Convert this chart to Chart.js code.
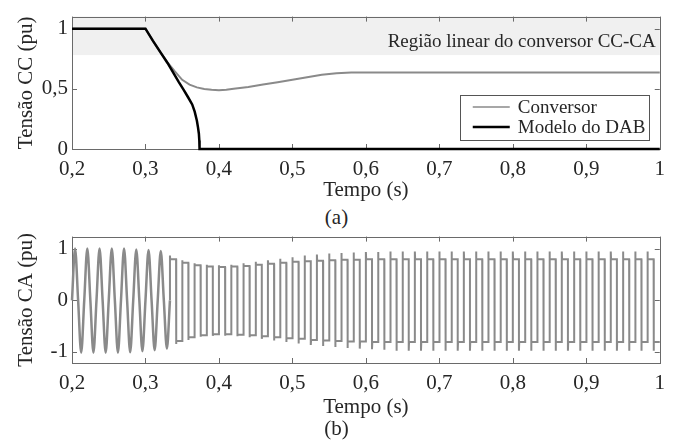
<!DOCTYPE html>
<html lang="pt">
<head>
<meta charset="UTF-8">
<title>Tensão CC e CA</title>
<script src="https://cdn.jsdelivr.net/npm/chart.js"></script>
<style>
body { margin: 0; background: #fff; }
#wrap { position: relative; width: 673px; height: 440px; font-family: "Liberation Serif", "Times New Roman", serif; color: #262626; }
canvas { position: absolute; left: 0; }
.cap { position: absolute; left: 0; width: 673px; text-align: center; font-size: 21px; line-height: 21px; }
</style>
</head>
<body>
<div id="wrap">
  <canvas id="ccChart" width="673" height="203" style="top:0"></canvas>
  <div class="cap" style="top:207px">(a)</div>
  <canvas id="caChart" width="673" height="200" style="top:220px"></canvas>
  <div class="cap" style="top:418px">(b)</div>
</div>
<script>
// axis ticks
const timeTicks = [0.2, 0.3, 0.4, 0.5, 0.6, 0.7, 0.8, 0.9, 1];
const ccTicks = [0, 0.5, 1];
const caTicks = [-1, 0, 1];

// (a) DC voltage
const dabTime = [0.2, 0.3, 0.31, 0.3205, 0.33, 0.3386, 0.345, 0.352, 0.358, 0.3636, 0.367, 0.37, 0.3715, 0.3727, 0.3733, 0.3736, 1.0];
const dabVolt = [1.0, 1.0, 0.9, 0.803, 0.715, 0.627, 0.56, 0.492, 0.43, 0.37, 0.31, 0.235, 0.18, 0.127, 0.07, 0.0, 0.0];
const convTime = [0.2, 0.3, 0.31, 0.32, 0.33, 0.34, 0.35, 0.36, 0.37, 0.38, 0.39, 0.4, 0.41, 0.42, 0.44, 0.46, 0.48, 0.5, 0.52, 0.54, 0.56, 0.58, 0.6, 0.7, 0.8, 0.9, 1.0];
const convVolt = [1.0, 1.0, 0.9, 0.805, 0.72, 0.645, 0.575, 0.535, 0.512, 0.498, 0.492, 0.489, 0.492, 0.5, 0.515, 0.535, 0.555, 0.575, 0.597, 0.617, 0.63, 0.635, 0.636, 0.636, 0.636, 0.636, 0.636];
const linearRegionFrom = 0.78;

// (b) AC voltage, 60 Hz, values read per cycle
const acFreq = 60;
const acStart = 0.2;
const sinePosPeak = [1.01, 1.01, 1.01, 1.01, 1.01, 0.99, 0.98, 0.96];
const sineNegPeak = [-1.02, -1.02, -1.02, -1.02, -1.01, -0.99, -0.97, -0.94];
const sqPosSpike = [0.87, 0.78, 0.72, 0.69, 0.68, 0.69, 0.72, 0.75, 0.78, 0.81, 0.84, 0.87, 0.89, 0.91, 0.92, 0.93, 0.94, 0.94,
  0.95, 0.95, 0.95, 0.95, 0.95, 0.95, 0.95, 0.95, 0.95, 0.95, 0.95, 0.95, 0.95, 0.95, 0.95, 0.95, 0.95, 0.95, 0.95, 0.95, 0.95, 0.95];
const sqPosFlat = [0.80, 0.73, 0.68, 0.66, 0.65, 0.66, 0.67, 0.69, 0.71, 0.73, 0.75, 0.76, 0.77, 0.78, 0.79, 0.79, 0.80, 0.80,
  0.80, 0.80, 0.80, 0.80, 0.80, 0.80, 0.80, 0.80, 0.80, 0.80, 0.80, 0.80, 0.80, 0.80, 0.80, 0.80, 0.80, 0.80, 0.80, 0.80, 0.80, 0.80];
const sqNegSpike = [-0.85, -0.77, -0.71, -0.69, -0.69, -0.70, -0.72, -0.75, -0.78, -0.81, -0.84, -0.87, -0.89, -0.91, -0.93, -0.94, -0.95, -0.96,
  -0.98, -0.98, -0.98, -0.98, -0.98, -0.98, -0.98, -0.98, -0.98, -0.98, -0.98, -0.98, -0.98, -0.98, -0.98, -0.98, -0.98, -0.98, -0.98, -0.98, -0.98, -0.98];
const sqNegFlat = [-0.79, -0.72, -0.68, -0.66, -0.66, -0.67, -0.68, -0.70, -0.72, -0.74, -0.75, -0.77, -0.78, -0.79, -0.80, -0.80, -0.81, -0.81,
  -0.81, -0.81, -0.81, -0.81, -0.81, -0.81, -0.81, -0.81, -0.81, -0.81, -0.81, -0.81, -0.81, -0.81, -0.81, -0.81, -0.81, -0.81, -0.81, -0.81, -0.81, -0.81];

const FONT = '"Liberation Serif", "Times New Roman", serif';
const TXT = '#262626';
const GRAY = '#8a8a8a';
const spikeWidth = 0.0004;

const fmt = v => String(Math.round(v * 10) / 10).replace('.', ',');

// build AC waveform points
const T = 1 / acFreq;
const sinePoints = [];
sinePosPeak.forEach((p, k) => {
  const t0 = acStart + k * T;
  sinePoints.push({x: t0, y: 0}, {x: t0 + T / 4, y: p}, {x: t0 + T / 2, y: 0}, {x: t0 + 3 * T / 4, y: sineNegPeak[k]});
});
const sqStart = acStart + sinePosPeak.length * T;
sinePoints.push({x: sqStart, y: 0});
const squarePoints = [{x: sqStart, y: 0}];
sqPosSpike.forEach((p, i) => {
  const t0 = sqStart + i * T, th = t0 + T / 2;
  squarePoints.push(
    {x: t0, y: p}, {x: t0 + spikeWidth, y: sqPosFlat[i]}, {x: th, y: sqPosFlat[i]},
    {x: th, y: sqNegSpike[i]}, {x: th + spikeWidth, y: sqNegFlat[i]}, {x: t0 + T, y: sqNegFlat[i]});
});

// box, inward ticks, shaded band, legend
const frame = {
  id: 'frame',
  beforeDatasetsDraw(chart, args, opts) {
    const {ctx, chartArea: a, scales: {x, y}} = chart;
    ctx.save();
    if (opts.band) {
      const yb = y.getPixelForValue(opts.band.from);
      ctx.fillStyle = '#f0f0f0';
      ctx.fillRect(a.left, a.top, a.width, yb - a.top);
      ctx.fillStyle = TXT;
      ctx.font = '19px ' + FONT;
      ctx.textAlign = 'right';
      ctx.textBaseline = 'middle';
      ctx.fillText(opts.band.text, a.right - 4, y.getPixelForValue(opts.band.labelAt));
    }
    ctx.strokeStyle = '#6a6a6a';
    ctx.lineWidth = 1;
    ctx.beginPath();
    x.ticks.forEach(t => {
      const px = Math.round(x.getPixelForValue(t.value)) + 0.5;
      ctx.moveTo(px, a.bottom); ctx.lineTo(px, a.bottom - 5);
      ctx.moveTo(px, a.top); ctx.lineTo(px, a.top + 5);
    });
    y.ticks.forEach(t => {
      const py = Math.round(y.getPixelForValue(t.value)) + 0.5;
      ctx.moveTo(a.left, py); ctx.lineTo(a.left + 5, py);
      ctx.moveTo(a.right, py); ctx.lineTo(a.right - 5, py);
    });
    ctx.stroke();
    ctx.strokeRect(Math.round(a.left) + 0.5, Math.round(a.top) + 0.5, Math.round(a.width), Math.round(a.height));
    ctx.restore();
  },
  afterDatasetsDraw(chart, args, opts) {
    if (!opts.legend) return;
    const {ctx, chartArea: a} = chart;
    const w = 189, h = 45;
    const bx = a.right - 11 - w, by = a.bottom - 9 - h;
    ctx.save();
    ctx.fillStyle = '#fff';
    ctx.fillRect(bx, by, w, h);
    ctx.strokeStyle = '#555';
    ctx.lineWidth = 1;
    ctx.strokeRect(Math.round(bx) + 0.5, Math.round(by) + 0.5, w, h);
    ctx.font = '19px ' + FONT;
    ctx.textBaseline = 'middle';
    ctx.fillStyle = TXT;
    chart.data.datasets.forEach((ds, i) => {
      const ly = by + 12 + i * 20;
      ctx.strokeStyle = ds.borderColor;
      ctx.lineWidth = i === 0 ? 1.5 : 2.5;
      ctx.beginPath(); ctx.moveTo(bx + 13, ly); ctx.lineTo(bx + 50, ly); ctx.stroke();
      ctx.fillText(ds.label, bx + 58, ly + 1);
    });
    ctx.restore();
  }
};

const noGrid = {display: false, drawTicks: false, tickLength: 0};

function timeAxis(height, titlePad) {
  return {
    type: 'linear', min: 0.2, max: 1,
    afterBuildTicks: s => { s.ticks = timeTicks.map(v => ({value: v})); },
    afterFit: s => { s.height = height; },
    grid: noGrid, border: {display: false},
    ticks: {color: TXT, font: {family: FONT, size: 21}, padding: 8, maxRotation: 0, autoSkip: false, callback: fmt},
    title: {display: true, text: 'Tempo (s)', color: TXT, font: {family: FONT, size: 21}, padding: {top: titlePad, bottom: 0}}
  };
}
function voltAxis(min, max, ticks, title) {
  return {
    type: 'linear', min: min, max: max,
    afterBuildTicks: s => { s.ticks = ticks.map(v => ({value: v})); },
    afterFit: s => { s.width = 72; },
    grid: noGrid, border: {display: false},
    ticks: {color: TXT, font: {family: FONT, size: 21}, padding: 4, callback: fmt},
    title: {display: true, text: title, color: TXT, font: {family: FONT, size: 21}, padding: {top: 14, bottom: 0}}
  };
}

new Chart(document.getElementById('ccChart'), {
  type: 'line',
  data: {
    datasets: [
      {label: 'Conversor', data: convTime.map((t, i) => ({x: t, y: convVolt[i]})), borderColor: GRAY, borderWidth: 2, pointRadius: 0, clip: false, order: 2},
      {label: 'Modelo do DAB', data: dabTime.map((t, i) => ({x: t, y: dabVolt[i]})), borderColor: '#000', borderWidth: 2.5, pointRadius: 0, clip: false, order: 1}
    ]
  },
  options: {
    responsive: false, animation: false,
    layout: {padding: {top: 14, right: 13, left: 0, bottom: 0}},
    scales: {x: timeAxis(54, 0), y: voltAxis(0, 1.1, ccTicks, 'Tensão CC (pu)')},
    plugins: {
      legend: {display: false}, tooltip: {enabled: false},
      frame: {band: {from: linearRegionFrom, labelAt: 0.885, text: 'Região linear do conversor CC-CA'}, legend: true}
    }
  },
  plugins: [frame]
});

new Chart(document.getElementById('caChart'), {
  type: 'line',
  data: {
    datasets: [
      {label: 'Tensão CA', data: sinePoints, borderColor: GRAY, borderWidth: 2.5, pointRadius: 0, cubicInterpolationMode: 'monotone', clip: false},
      {label: 'Tensão CA', data: squarePoints, borderColor: GRAY, borderWidth: 2, pointRadius: 0, tension: 0, clip: false}
    ]
  },
  options: {
    responsive: false, animation: false,
    layout: {padding: {top: 9, right: 13, left: 0, bottom: 0}},
    scales: {x: timeAxis(57, 3), y: voltAxis(-1.22, 1.24, caTicks, 'Tensão CA (pu)')},
    plugins: {legend: {display: false}, tooltip: {enabled: false}, frame: {}}
  },
  plugins: [frame]
});
</script>
</body>
</html>
